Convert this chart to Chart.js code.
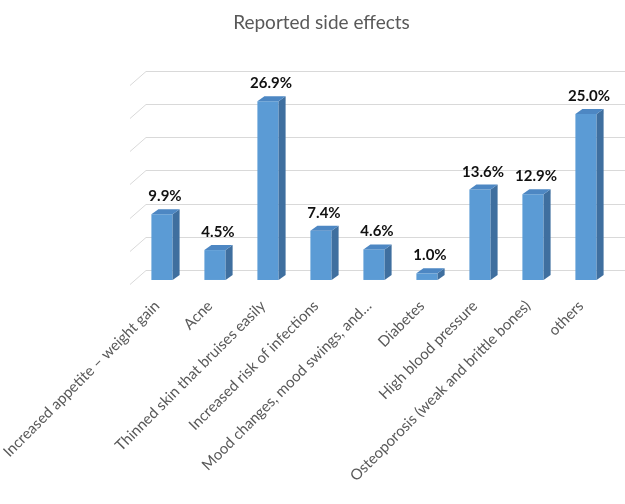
<!DOCTYPE html>
<html><head><meta charset="utf-8">
<script src="https://cdn.jsdelivr.net/npm/chart.js@4/dist/chart.umd.min.js"></script>
<style>html,body{margin:0;padding:0;background:#fff}#wrap{width:625px;height:504px}</style>
</head><body><div id="wrap"><canvas id="c" width="625" height="504"></canvas></div>
<script>
const chartTitle = 'Reported side effects';
const categories = [
  'Increased appetite \u2013 weight gain',
  'Acne',
  'Thinned skin that bruises easily',
  'Increased risk of infections',
  'Mood changes, mood swings, and\u2026',
  'Diabetes',
  'High blood pressure',
  'Osteoporosis (weak and brittle bones)',
  'others'
];
const values = [9.9, 4.5, 26.9, 7.4, 4.6, 1.0, 13.6, 12.9, 25.0];
const valueLabels = ['9.9%', '4.5%', '26.9%', '7.4%', '4.6%', '1.0%', '13.6%', '12.9%', '25.0%'];

const DX = 7, DY = 5;

const wallGrid = {
  id: 'wallGrid',
  beforeDatasetsDraw(chart) {
    const ctx = chart.ctx, a = chart.chartArea, ys = chart.scales.y;
    ctx.save();
    ctx.strokeStyle = '#d9d9d9';
    ctx.lineWidth = 1;
    ys.ticks.forEach(t => {
      const py = Math.round(ys.getPixelForValue(t.value)) + 0.5;
      ctx.beginPath();
      ctx.moveTo(a.left - 5.5, py + 14);
      ctx.lineTo(a.left + 10.5, py);
      ctx.lineTo(chart.width, py);
      ctx.stroke();
    });
    ctx.restore();
  }
};

const bar3d = {
  id: 'bar3d',
  afterDatasetsDraw(chart) {
    const ctx = chart.ctx;
    const meta = chart.getDatasetMeta(0);
    ctx.save();
    meta.data.forEach((el, i) => {
      const l = el.x - el.width / 2, r = el.x + el.width / 2, t = el.y, b = el.base;
      ctx.fillStyle = '#3f6f9f';
      ctx.beginPath();
      ctx.moveTo(r, t); ctx.lineTo(r + DX, t - DY); ctx.lineTo(r + DX, b - DY); ctx.lineTo(r, b);
      ctx.closePath(); ctx.fill();
      ctx.fillStyle = '#4d87c3';
      ctx.beginPath();
      ctx.moveTo(l, t); ctx.lineTo(l + DX, t - DY); ctx.lineTo(r + DX, t - DY); ctx.lineTo(r, t);
      ctx.closePath(); ctx.fill();
      ctx.fillStyle = '#111';
      ctx.font = 'bold 15px Lato';
      ctx.textAlign = 'center';
      ctx.textBaseline = 'alphabetic';
      ctx.fillText(valueLabels[i], el.x + 3, t - 13);
    });
    ctx.fillStyle = '#595959';
    ctx.font = '19px Lato';
    ctx.textAlign = 'center';
    ctx.textBaseline = 'alphabetic';
    ctx.fillText(chartTitle, 321.5, 29);
    ctx.restore();
  }
};

new Chart(document.getElementById('c'), {
  type: 'bar',
  data: {
    labels: categories,
    datasets: [{
      data: values,
      yAxisID: 'yb',
      backgroundColor: '#5b9bd5',
      borderWidth: 0,
      clip: false,
      categoryPercentage: 1.0,
      barPercentage: 0.4
    }]
  },
  options: {
    responsive: false,
    animation: false,
    devicePixelRatio: 1,
    layout: { padding: { top: 70.7, left: 135.5, right: 12.5, bottom: 0 } },
    plugins: { legend: { display: false }, title: { display: false }, tooltip: { enabled: false } },
    scales: {
      x: {
        grid: { display: false, drawTicks: false },
        border: { display: false },
        ticks: {
          autoSkip: false, minRotation: 45, maxRotation: 45, padding: 27, labelOffset: -5,
          color: '#595959', font: { family: 'Lato', size: 15 }
        },
        afterFit(scale) { scale.height = 234; scale.paddingLeft = 0; scale.paddingRight = 0; scale.paddingTop = 0; scale.paddingBottom = 0; }
      },
      y: { display: false, min: 0, max: 30, ticks: { stepSize: 5 } },
      yb: { display: false, min: 1.5, max: 31.5 }
    }
  },
  plugins: [wallGrid, bar3d]
});
</script></body></html>
